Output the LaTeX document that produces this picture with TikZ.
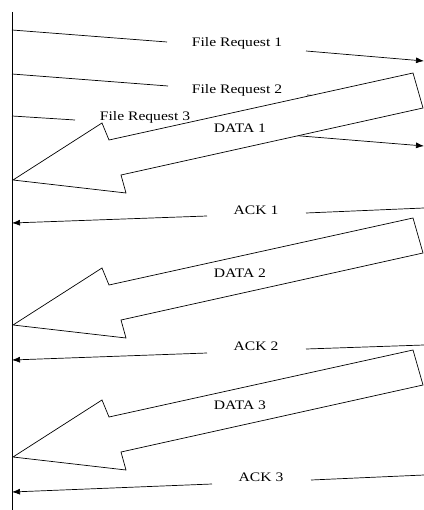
\documentclass[tikz,border=0pt]{standalone}
\usepackage{fontspec}
\setmainfont{Liberation Serif}[FakeStretch=1.2]
\usetikzlibrary{arrows.meta}
\begin{document}
\begin{tikzpicture}[x=1pt,y=-1pt,
  msg/.style={line width=0.7pt},
  tipmsg/.style={line width=0.7pt,-{Latex[length=8pt,width=6pt]}},
  lbl/.style={font=\fontsize{13}{15}\selectfont,inner sep=0pt},
  bigarrow/.style={line width=0.7pt,fill=white,line join=miter}]
\useasboundingbox (0,0) rectangle (423,510);
% lifeline
\coordinate (top) at (12,12);
\coordinate (bot) at (12,512);
\draw[line width=1pt] (top) -- (bot);
% File Request 1
\coordinate (f1s) at (12,30); \coordinate (f1a) at (167,42);
\coordinate (f1b) at (306,51); \coordinate (f1e) at (424,61);
\draw[msg] (f1s) -- (f1a);
\draw[tipmsg] (f1b) -- (f1e);
\node[lbl] (f1) at (237,43) {File Request 1};
% File Request 2
\coordinate (f2s) at (12,74); \coordinate (f2a) at (168,86);
\coordinate (f2b) at (307,95); \coordinate (f2e) at (415,104);
\draw[msg] (f2s) -- (f2a);
\draw[msg] (f2b) -- (f2e);
\node[lbl] (f2) at (237,90) {File Request 2};
% File Request 3
\coordinate (f3s) at (12,116); \coordinate (f3a) at (75,120);
\coordinate (f3b) at (215,129); \coordinate (f3e) at (424,146);
\draw[msg] (f3s) -- (f3a);
\draw[tipmsg] (f3b) -- (f3e);
\node[lbl] (f3) at (145,117) {File Request 3};
% DATA arrows
\foreach \dy in {0,145,277}{
  \begin{scope}[shift={(0,\dy)}]
    \draw[bigarrow] (13,180) -- (102,123) -- (109,140) -- (413,73) -- (423,108) -- (121,175) -- (126,193) -- cycle;
  \end{scope}
}
\node[lbl] (d1) at (240,128) {DATA 1};
\node[lbl] (d2) at (240,273) {DATA 2};
\node[lbl] (d3) at (240,405) {DATA 3};
% ACK 1
\coordinate (a1s) at (424,208); \coordinate (a1a) at (306,213);
\coordinate (a1b) at (207,216); \coordinate (a1e) at (12,223);
\draw[msg] (a1s) -- (a1a);
\draw[tipmsg] (a1b) -- (a1e);
\node[lbl] (k1) at (256,210) {ACK 1};
% ACK 2
\coordinate (a2s) at (424,345); \coordinate (a2a) at (306,349);
\coordinate (a2b) at (207,353); \coordinate (a2e) at (12,360);
\draw[msg] (a2s) -- (a2a);
\draw[tipmsg] (a2b) -- (a2e);
\node[lbl] (k2) at (256,346) {ACK 2};
% ACK 3
\coordinate (a3s) at (424,475); \coordinate (a3a) at (311,480);
\coordinate (a3b) at (212,484); \coordinate (a3e) at (12,492);
\draw[msg] (a3s) -- (a3a);
\draw[tipmsg] (a3b) -- (a3e);
\node[lbl] (k3) at (261,477) {ACK 3};
\end{tikzpicture}
\end{document}
